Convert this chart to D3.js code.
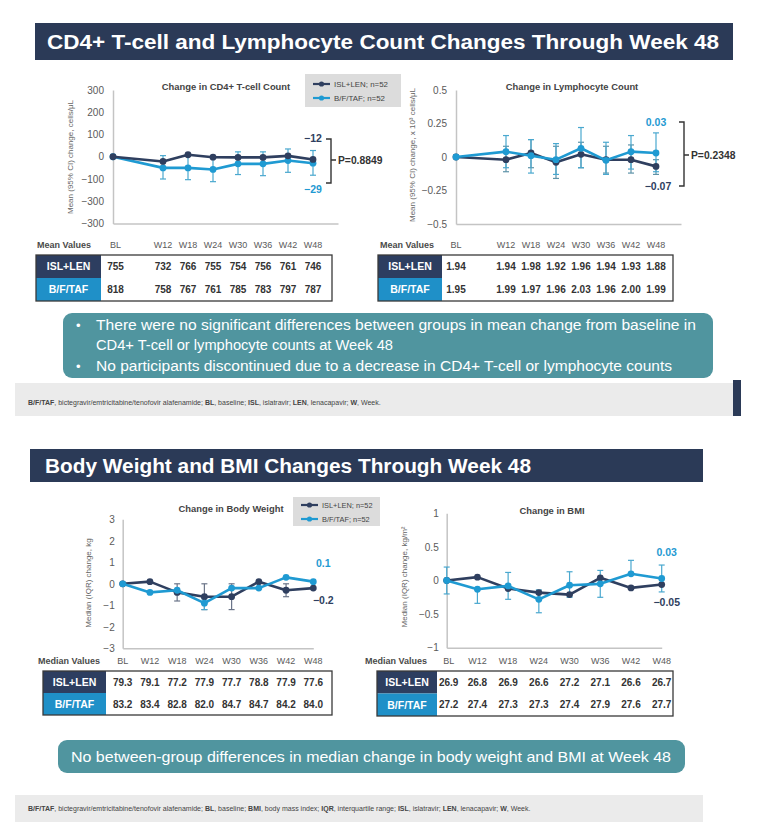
<!DOCTYPE html>
<html><head><meta charset="utf-8">
<script src="https://cdn.jsdelivr.net/npm/d3@7"></script>
<style>body{margin:0;background:#fff;} svg{display:block;}</style>
</head><body><script>
// ---------------- DATA ----------------
const weekLabels = ["BL","W12","W18","W24","W30","W36","W42","W48"];
const weekNums = [0,12,18,24,30,36,42,48];
const groupNames = ["ISL+LEN","B/F/TAF"];
const legendLabels = ["ISL+LEN; n=52","B/F/TAF; n=52"];

// CD4+ T-cell count, mean (95% CI) change
const cd4Isl = [0,-21,9,-2,-3,-3,4,-12];
const cd4Bft = [0,-50,-50,-57,-32,-32,-17,-29];
const cd4BftLo = [0,-100,-103,-112,-80,-85,-70,-83];
const cd4BftHi = [0,5,2,-2,22,22,35,28];
const cd4Ticks = [300,200,100,0,-100,-200,-300];
const cd4TickLabels = ["300","200","100","0","−100","−300","−300"];
const cd4EndLabels = ["−12","−29"];
const cd4P = "P=0.8849";

// Lymphocyte count, mean (95% CI) change
const lymIsl = [0,-0.02,0.03,-0.04,0.02,-0.02,-0.02,-0.07];
const lymIslLo = [0,-0.11,-0.08,-0.16,-0.08,-0.12,-0.12,-0.13];
const lymIslHi = [0,0.08,0.13,0.08,0.11,0.08,0.09,-0.02];
const lymBft = [0,0.04,0.01,-0.02,0.065,-0.025,0.04,0.03];
const lymBftLo = [0,-0.08,-0.12,-0.13,-0.08,-0.13,-0.09,-0.11];
const lymBftHi = [0,0.16,0.13,0.10,0.22,0.11,0.16,0.18];
const lymTicks = [0.5,0.25,0,-0.25,-0.5];
const lymTickLabels = ["0.5","0.25","0","−0.25","−0.5"];
const lymEndLabels = ["−0.07","0.03"];
const lymP = "P=0.2348";

// Body weight, median (IQR) change
const wtIsl = [0,0.1,-0.4,-0.6,-0.6,0.1,-0.3,-0.2];
const wtIslLo = [0,0.1,-0.8,-1.2,-1.2,0.1,-0.6,-0.2];
const wtIslHi = [0,0.1,0,0,0,0.1,0,-0.2];
const wtBft = [0,-0.4,-0.3,-0.9,-0.2,-0.2,0.3,0.1];
const wtBftLo = [0,-0.4,-0.3,-1.2,-0.2,-0.2,0.3,0.1];
const wtBftHi = [0,-0.4,-0.3,-0.7,-0.2,-0.2,0.3,0.1];
const wtTicks = [3,2,1,0,-1,-2,-3];
const wtTickLabels = ["3","2","1","0","−1","−2","−3"];
const wtEndLabels = ["−0.2","0.1"];

// BMI, median (IQR) change
const bmiIsl = [0,0.05,-0.12,-0.18,-0.21,0.04,-0.11,-0.06];
const bmiBft = [0,-0.13,-0.08,-0.28,-0.07,-0.05,0.1,0.03];
const bmiBftLo = [-0.2,-0.34,-0.28,-0.48,-0.25,-0.25,0.1,-0.17];
const bmiBftHi = [0.2,-0.13,0.12,-0.14,0.13,0.15,0.3,0.23];
const bmiTicks = [1,0.5,0,-0.5,-1];
const bmiTickLabels = ["1","0.5","0","−0.5","−1"];
const bmiEndLabels = ["−0.05","0.03"];

// Tables
const cd4MeanIsl = ["755","732","766","755","754","756","761","746"];
const cd4MeanBft = ["818","758","767","761","785","783","797","787"];
const lymMeanIsl = ["1.94","1.94","1.98","1.92","1.96","1.94","1.93","1.88"];
const lymMeanBft = ["1.95","1.99","1.97","1.96","2.03","1.96","2.00","1.99"];
const wtMedIsl = ["79.3","79.1","77.2","77.9","77.7","78.8","77.9","77.6"];
const wtMedBft = ["83.2","83.4","82.8","82.0","84.7","84.7","84.2","84.0"];
const bmiMedIsl = ["26.9","26.8","26.9","26.6","27.2","27.1","26.6","26.7"];
const bmiMedBft = ["27.2","27.4","27.3","27.3","27.4","27.9","27.6","27.7"];

// Texts
const title1 = "CD4+ T-cell and Lymphocyte Count Changes Through Week 48";
const title2 = "Body Weight and BMI Changes Through Week 48";
const bullets1 = ["There were no significant differences between groups in mean change from baseline in",
                  "CD4+ T-cell or lymphocyte counts at Week 48",
                  "No participants discontinued due to a decrease in CD4+ T-cell or lymphocyte counts"];
const callout2 = "No between-group differences in median change in body weight and BMI at Week 48";
const foot1 = [["B/F/TAF",1],[", bictegravir/emtricitabine/tenofovir alafenamide; ",0],["BL",1],[", baseline; ",0],["ISL",1],[", islatravir; ",0],["LEN",1],[", lenacapavir; ",0],["W",1],[", Week.",0]];
const foot2 = [["B/F/TAF",1],[", bictegravir/emtricitabine/tenofovir alafenamide; ",0],["BL",1],[", baseline; ",0],["BMI",1],[", body mass index; ",0],["IQR",1],[", interquartile range; ",0],["ISL",1],[", islatravir; ",0],["LEN",1],[", lenacapavir; ",0],["W",1],[", Week.",0]];

// ---------------- STYLE ----------------
const FONT = "'Liberation Sans', Arial, sans-serif";
const C_DARK = "#2f3f5f", C_LIGHT = "#1f9ad2", C_LIGHT_ERR = "#4aa8cf";
const C_HEAD = "#2b3a57", C_TEAL = "#50959f", C_TBL_DARK = "#2d3e60", C_TBL_BLUE = "#1f90c8";

const svg = d3.select("body").append("svg").attr("width",761).attr("height",835)
  .style("font-family",FONT);
svg.append("rect").attr("width",761).attr("height",835).attr("fill","#fff");

function titleBar(x,y,w,h,text,tx,tlen){
  svg.append("rect").attr("x",x).attr("y",y).attr("width",w).attr("height",h).attr("fill",C_HEAD);
  svg.append("text").attr("x",tx).attr("y",y+h/2).attr("dy","0.36em").attr("fill","#fff")
    .attr("font-size",20).attr("font-weight","bold").attr("textLength",tlen)
    .attr("lengthAdjust","spacingAndGlyphs").text(text);
}

function plotPanel(p){
  const g = svg.append("g");
  const x0 = p.xAxis.range()[0];
  g.append("g").attr("transform",`translate(${x0},0)`)
    .call(d3.axisLeft(p.y).tickValues(p.ticks).tickFormat((d,i)=>p.tickLabels[i]).tickSize(0).tickSizeOuter(0).tickPadding(p.tickPad))
    .call(a=>{a.attr("font-family",FONT).attr("font-size",10);
      a.select(".domain").attr("stroke","#c4c4c4").attr("stroke-width",1.5);
      a.selectAll("text").attr("fill","#5a5a5a");});
  g.append("g").attr("transform",`translate(0,${p.y.range()[0]})`)
    .call(d3.axisBottom(p.xAxis).tickValues([]).tickSizeOuter(0))
    .call(a=>a.select(".domain").attr("stroke","#c4c4c4").attr("stroke-width",1.5));
  g.append("text").attr("x",p.titleX).attr("y",p.titleY).attr("text-anchor","middle").attr("dy","0.35em")
    .attr("font-size",9.4).attr("font-weight","bold").attr("fill","#444").text(p.title);
  g.append("text").attr("transform",`translate(${p.yTitleX},${p.yTitleY}) rotate(-90)`)
    .attr("text-anchor","middle").attr("dy","0.35em").attr("font-size",8).attr("fill","#666").text(p.yTitle);
  p.series.forEach(s=>{
    if(!s.lo) return;
    s.values.forEach((v,i)=>{
      if(s.lo[i]===s.hi[i]) return;
      const xx = p.px(i);
      g.append("line").attr("x1",xx).attr("x2",xx).attr("y1",p.y(s.lo[i])).attr("y2",p.y(s.hi[i]))
        .attr("stroke",s.errColor).attr("stroke-width",1.2);
      [s.lo[i],s.hi[i]].forEach(e=>g.append("line").attr("x1",xx-3).attr("x2",xx+3)
        .attr("y1",p.y(e)).attr("y2",p.y(e)).attr("stroke",s.errColor).attr("stroke-width",1.2));
    });
  });
  p.series.forEach(s=>{
    const line = d3.line().x((d,i)=>p.px(i)).y(d=>p.y(d));
    g.append("path").attr("d",line(s.values)).attr("fill","none").attr("stroke",s.color)
      .attr("stroke-width",2.6).attr("stroke-linejoin","round");
    g.selectAll(null).data(s.values).enter().append("circle")
      .attr("cx",(d,i)=>p.px(i)).attr("cy",d=>p.y(d)).attr("r",3.4).attr("fill",s.color);
  });
  p.series.forEach(s=>{
    const last = s.values.length-1;
    g.append("text").attr("x",p.px(last)+s.labDx).attr("y",p.y(s.values[last])+s.labDy)
      .attr("text-anchor","middle").attr("dy","0.35em").attr("font-size",10.5).attr("font-weight","bold")
      .attr("fill",s.color).text(s.endLabel);
  });
  if(p.bracket){
    const b = p.bracket;
    g.append("path").attr("d",`M${b.x-5},${b.y0}H${b.x}V${b.y1}H${b.x-5}M${b.x},${b.ym}H${b.x+5}`)
      .attr("fill","none").attr("stroke","#333").attr("stroke-width",1.4);
    g.append("text").attr("x",b.x+7).attr("y",b.ym).attr("dy","0.35em").attr("font-size",10.3)
      .attr("font-weight","bold").attr("fill","#333").text(b.text);
  }
}

function legend(x,y,w,h,rows,lx0,lx1,fs){
  const g = svg.append("g");
  g.append("rect").attr("x",x).attr("y",y).attr("width",w).attr("height",h).attr("fill","#dcdcdc");
  rows.forEach(r=>{
    g.append("line").attr("x1",lx0).attr("x2",lx1).attr("y1",r.y).attr("y2",r.y).attr("stroke",r.color).attr("stroke-width",2.2);
    g.append("circle").attr("cx",(lx0+lx1)/2).attr("cy",r.y).attr("r",2.6).attr("fill",r.color);
    g.append("text").attr("x",lx1+4).attr("y",r.y).attr("dy","0.35em").attr("font-size",fs).attr("fill","#444").text(r.label);
  });
}

function table(t){
  const g = svg.append("g");
  g.append("text").attr("x",t.headX).attr("y",t.headY).attr("dy","0.35em").attr("font-size",9)
    .attr("font-weight","bold").attr("fill","#4a4a4a").text(t.headText);
  weekLabels.forEach((w,i)=>g.append("text").attr("x",t.cx(i)).attr("y",t.headY).attr("dy","0.35em")
    .attr("text-anchor","middle").attr("font-size",9).attr("fill","#5a5a5a").text(w));
  const rh = (t.y1-t.y0)/2;
  g.append("rect").attr("x",t.x0).attr("y",t.y0).attr("width",t.x2-t.x0).attr("height",t.y1-t.y0).attr("fill","#fff");
  t.rows.forEach((r,k)=>{
    g.append("rect").attr("x",t.x0).attr("y",t.y0+k*rh).attr("width",t.x1-t.x0).attr("height",rh).attr("fill",r.color);
    g.append("text").attr("x",(t.x0+t.x1)/2).attr("y",t.y0+k*rh+rh/2).attr("dy","0.36em").attr("text-anchor","middle")
      .attr("font-size",10.5).attr("font-weight","bold").attr("fill","#fff").text(r.name);
    r.values.forEach((v,i)=>g.append("text").attr("x",t.cx(i)).attr("y",t.y0+k*rh+rh/2).attr("dy","0.36em")
      .attr("text-anchor","middle").attr("font-size",10).attr("font-weight","bold").attr("fill","#333").text(v));
  });
  g.append("rect").attr("x",t.x0).attr("y",t.y0).attr("width",t.x2-t.x0).attr("height",t.y1-t.y0)
    .attr("fill","none").attr("stroke","#3a3a3a").attr("stroke-width",1.3);
}

function footnote(x,y,w,h,parts,ty,fs){
  svg.append("rect").attr("x",x).attr("y",y).attr("width",w).attr("height",h).attr("fill","#ebebeb");
  const t = svg.append("text").attr("x",28).attr("y",ty).attr("font-size",fs).attr("fill","#444");
  parts.forEach(p=>t.append("tspan").attr("font-weight",p[1]?"bold":"normal").text(p[0]));
}

// ---------------- TOP SECTION ----------------
titleBar(35,23,698,37,title1,47,672);

const xCd4 = d3.scaleLinear().domain([0,54]).range([113,338]);
const yCd4 = d3.scaleLinear().domain([-300,300]).range([223.5,90]);
plotPanel({xAxis:xCd4, y:yCd4, px:i=>xCd4(weekNums[i]), ticks:cd4Ticks, tickLabels:cd4TickLabels, tickPad:9,
  title:"Change in CD4+ T-cell Count", titleX:226, titleY:87,
  yTitle:"Mean (95% CI) change, cells/μL", yTitleX:70, yTitleY:157,
  series:[
    {values:cd4Bft, lo:cd4BftLo, hi:cd4BftHi, color:C_LIGHT, errColor:C_LIGHT_ERR, endLabel:cd4EndLabels[1], labDx:0, labDy:26},
    {values:cd4Isl, color:C_DARK, endLabel:cd4EndLabels[0], labDx:0, labDy:-21.5}
  ],
  bracket:{x:331, y0:139, y1:183, ym:160, text:cd4P}});
legend(305,74,96,33,[{y:84,color:C_DARK,label:legendLabels[0]},{y:98,color:C_LIGHT,label:legendLabels[1]}],313,330,7.9);

const xLym = d3.scaleLinear().domain([0,54]).range([456,681]);
const yLym = d3.scaleLinear().domain([-0.5,0.5]).range([224,90]);
plotPanel({xAxis:xLym, y:yLym, px:i=>xLym(weekNums[i]), ticks:lymTicks, tickLabels:lymTickLabels, tickPad:9,
  title:"Change in Lymphocyte Count", titleX:572, titleY:87,
  yTitle:"Mean (95% CI) change, x 10³ cells/μL", yTitleX:412, yTitleY:155,
  series:[
    {values:lymIsl, lo:lymIslLo, hi:lymIslHi, color:C_DARK, errColor:"#5e93a8", endLabel:lymEndLabels[0], labDx:2, labDy:20},
    {values:lymBft, lo:lymBftLo, hi:lymBftHi, color:C_LIGHT, errColor:C_LIGHT_ERR, endLabel:lymEndLabels[1], labDx:0, labDy:-31}
  ],
  bracket:{x:684, y0:122, y1:186, ym:155, text:lymP}});

table({headText:"Mean Values", headX:37, headY:245, cx:i=>xCd4(weekNums[i]) + (i===0?2.5:0),
  x0:36, x1:101, x2:332, y0:255, y1:301,
  rows:[{name:groupNames[0],color:C_TBL_DARK,values:cd4MeanIsl},{name:groupNames[1],color:C_TBL_BLUE,values:cd4MeanBft}]});
table({headText:"Mean Values", headX:380, headY:245, cx:i=>xLym(weekNums[i]),
  x0:378, x1:442, x2:673, y0:255, y1:301,
  rows:[{name:groupNames[0],color:C_TBL_DARK,values:lymMeanIsl},{name:groupNames[1],color:C_TBL_BLUE,values:lymMeanBft}]});

svg.append("rect").attr("x",63).attr("y",313).attr("width",650).attr("height",65).attr("rx",9).attr("fill",C_TEAL);
[[325,0,true,600],[345,1,false,297],[366,2,true,576]].forEach(([yy,k,bul,len])=>{
  if(bul) svg.append("text").attr("x",76).attr("y",yy).attr("dy","0.35em").attr("font-size",13).attr("fill","#fff").text("•");
  svg.append("text").attr("x",96).attr("y",yy).attr("dy","0.35em").attr("font-size",15.5).attr("fill","#fff")
    .attr("textLength",len).attr("lengthAdjust","spacingAndGlyphs").text(bullets1[k]);
});

footnote(15,383,718,33,foot1,405,7);
svg.append("rect").attr("x",733).attr("y",380).attr("width",8).attr("height",36).attr("fill",C_HEAD);

// ---------------- BOTTOM SECTION ----------------
titleBar(30,449,673,33,title2,45,486);

const xWt = d3.scalePoint().domain(weekLabels).range([122.7,313.3]);
const yWt = d3.scaleLinear().domain([-3,3]).range([648.3,519.3]);
plotPanel({xAxis:xWt, y:yWt, px:i=>xWt(weekLabels[i]), ticks:wtTicks, tickLabels:wtTickLabels, tickPad:8,
  title:"Change in Body Weight", titleX:231, titleY:509,
  yTitle:"Median (IQR) change, kg", yTitleX:88, yTitleY:583,
  series:[
    {values:wtIsl, lo:wtIslLo, hi:wtIslHi, color:C_DARK, errColor:"#6a7488", endLabel:wtEndLabels[0], labDx:10, labDy:12},
    {values:wtBft, lo:wtBftLo, hi:wtBftHi, color:C_LIGHT, errColor:C_LIGHT_ERR, endLabel:wtEndLabels[1], labDx:10, labDy:-18.5}
  ]});
legend(293,497,87,29,[{y:505,color:C_DARK,label:legendLabels[0]},{y:519,color:C_LIGHT,label:legendLabels[1]}],301,318,7.4);

const xBmi = d3.scalePoint().domain(weekLabels).range([446.7,661.7]);
const yBmi = d3.scaleLinear().domain([-1,1]).range([647.7,513.3]);
plotPanel({xAxis:xBmi, y:yBmi, px:i=>xBmi(weekLabels[i]), ticks:bmiTicks, tickLabels:bmiTickLabels, tickPad:8,
  title:"Change in BMI", titleX:552, titleY:511,
  yTitle:"Median (IQR) change, kg/m²", yTitleX:404, yTitleY:577,
  series:[
    {values:bmiIsl, color:C_DARK, endLabel:bmiEndLabels[0], labDx:5, labDy:18},
    {values:bmiBft, lo:bmiBftLo, hi:bmiBftHi, color:C_LIGHT, errColor:C_LIGHT_ERR, endLabel:bmiEndLabels[1], labDx:5, labDy:-26}
  ]});

table({headText:"Median Values", headX:38, headY:661, cx:i=>xWt(weekLabels[i]),
  x0:43, x1:106, x2:332, y0:671, y1:715,
  rows:[{name:groupNames[0],color:C_TBL_DARK,values:wtMedIsl},{name:groupNames[1],color:C_TBL_BLUE,values:wtMedBft}]});
table({headText:"Median Values", headX:365, headY:661, cx:i=>xBmi(weekLabels[i]) + (i===0?2:0),
  x0:377, x1:437, x2:673, y0:671, y1:716,
  rows:[{name:groupNames[0],color:C_TBL_DARK,values:bmiMedIsl},{name:groupNames[1],color:C_TBL_BLUE,values:bmiMedBft}]});

svg.append("rect").attr("x",58).attr("y",740).attr("width",627).attr("height",33).attr("rx",9).attr("fill",C_TEAL);
svg.append("text").attr("x",371).attr("y",757).attr("dy","0.35em").attr("text-anchor","middle").attr("font-size",15)
  .attr("fill","#fff").attr("textLength",600).attr("lengthAdjust","spacingAndGlyphs").text(callout2);

footnote(15,795,688,27,foot2,811,7);
</script></body></html>
